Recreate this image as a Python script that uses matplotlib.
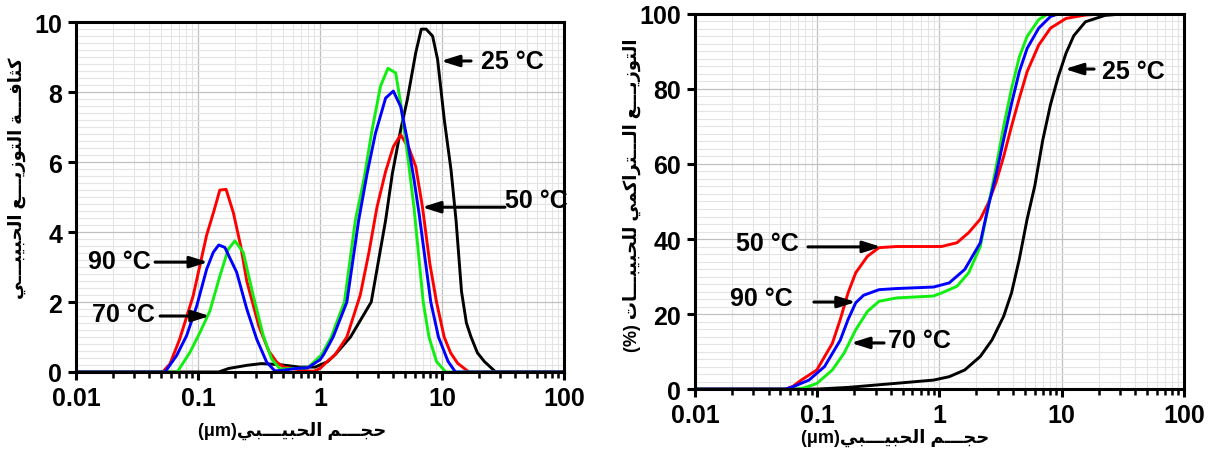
import matplotlib
matplotlib.use("Agg")
import matplotlib.pyplot as plt
from matplotlib.ticker import FixedLocator, NullFormatter, MultipleLocator

plt.rcParams['font.family'] = ['Liberation Sans', 'DejaVu Sans']
plt.rcParams['font.weight'] = 'bold'

# ---- frequency (density) curves, size in µm ----
red_d_size = [0.01, 0.0513, 0.0589, 0.0708, 0.0912, 0.1175, 0.135, 0.151, 0.170, 0.195,
              0.224, 0.251, 0.316, 0.380, 0.442, 0.501, 0.631, 0.794, 0.891, 1.0,
              1.148, 1.334, 1.66, 2.138, 2.512, 2.931, 3.443, 3.99, 4.581, 5.37,
              6.095, 6.918, 7.943, 9.016, 10.42, 11.75, 13.43, 16.6, 100]
red_d = [0, 0, 0.23, 0.94, 2.17, 3.9, 4.6, 5.2, 5.22, 4.55,
         3.6, 2.6, 1.3, 0.6, 0.28, 0.15, 0.08, 0.03, 0.02, 0.1,
         0.3, 0.5, 1.0, 2.2, 3.4, 4.71, 5.72, 6.44, 6.78, 6.39,
         5.87, 4.71, 3.1, 2.0, 1.0, 0.55, 0.25, 0, 0]

blue_d_size = [0.01, 0.0537, 0.0668, 0.0807, 0.0977, 0.1178, 0.1334, 0.1479, 0.166, 0.2075,
               0.2512, 0.3027, 0.3656, 0.4266, 0.501, 0.631, 0.794, 1.0, 1.072, 1.282,
               1.66, 2.075, 2.432, 2.851, 3.451, 3.99, 4.581, 5.2, 5.902, 6.486,
               8.091, 9.354, 11.22, 12.88, 100]
blue_d = [0, 0, 0.47, 1.04, 1.89, 2.94, 3.42, 3.63, 3.56, 2.85,
          1.8, 0.94, 0.28, 0.03, 0.05, 0.1, 0.12, 0.35, 0.5, 1.0,
          2.0, 4.34, 5.67, 6.83, 7.83, 8.03, 7.59, 6.63, 5.49, 4.53,
          2.0, 1.0, 0.3, 0, 0]

green_d_size = [0.01, 0.0676, 0.0859, 0.1038, 0.1253, 0.1514, 0.177, 0.2009, 0.235, 0.2838,
                0.3428, 0.4018, 0.4699, 0.631, 0.794, 1.033, 1.236, 1.585, 1.95, 2.286,
                2.673, 3.133, 3.606, 4.169, 4.581, 5.2, 5.888, 7.015, 7.816, 9.016,
                10.72, 100]
green_d = [0, 0, 0.56, 1.13, 1.75, 2.75, 3.51, 3.75, 3.42, 2.18,
           1.04, 0.37, 0.09, 0.1, 0.12, 0.5, 1.0, 2.0, 4.34, 5.49,
           6.92, 8.17, 8.68, 8.55, 7.69, 6.25, 4.71, 2.0, 1.0, 0.3,
           0, 0]

black_d_size = [0.01, 0.148, 0.178, 0.251, 0.331, 0.468, 0.676, 0.912, 1.148, 1.334,
                1.778, 2.63, 3.451, 3.917, 4.581, 5.2, 6.095, 6.761, 7.413, 8.375,
                9.204, 10.45, 11.86, 13.03, 14.45, 15.85, 17.3, 19.5, 22.23, 27.54,
                100]
black_d = [0, 0, 0.1, 0.19, 0.24, 0.21, 0.14, 0.14, 0.29, 0.5,
           1.0, 2.0, 4.34, 5.67, 6.92, 7.79, 9.13, 9.8, 9.8, 9.6,
           8.93, 7.2, 5.77, 4.34, 2.3, 1.4, 1.0, 0.55, 0.3, 0,
           0]

# ---- cumulative curves (%) ----
red_c_size = [0.01, 0.055, 0.0631, 0.0741, 0.0993, 0.133, 0.1542, 0.1786, 0.2065, 0.2576,
              0.3206, 0.4467, 1.038, 1.39, 1.734, 2.158, 2.5, 2.897, 3.35, 3.882,
              4.498, 5.212, 6.486, 8.091, 10.84, 15.63, 22.39, 100]
red_c = [0, 0, 0.7, 2.4, 5.1, 12.2, 18.5, 25.6, 31, 35.4,
         37.7, 38, 38, 39, 41.7, 45.3, 49.5, 55, 62, 70,
         77.5, 84.6, 91.7, 96.2, 98.8, 99.7, 100, 100]

blue_c_size = [0.01, 0.055, 0.0631, 0.0857, 0.1148, 0.1542, 0.1786, 0.2065, 0.2393, 0.3206,
               0.4467, 0.8954, 1.202, 1.611, 2.158, 2.5, 2.897, 3.35, 3.882, 4.498,
               5.212, 6.486, 8.091, 9.333, 100]
blue_c = [0, 0, 0.6, 2.4, 6, 13, 18.5, 23, 25, 26.5,
          26.8, 27.2, 28.3, 31.9, 39, 48.5, 57, 66.5, 76, 84.6,
          90.8, 96.2, 99.3, 100, 100]

green_c_size = [0.01, 0.0692, 0.0794, 0.0993, 0.133, 0.166, 0.2065, 0.2576, 0.3206, 0.4467,
                0.8913, 1.038, 1.39, 1.734, 2.158, 2.5, 2.897, 3.35, 3.882, 4.498,
                5.212, 6.486, 7.516, 10, 100]
green_c = [0, 0, 0.4, 1.5, 5.1, 9.6, 15.8, 20.7, 23.4, 24.3,
           24.8, 25.6, 27.4, 31, 38, 48.5, 59, 70, 80, 88.5,
           94, 98.5, 99.8, 100, 100]

black_c_size = [0.01, 0.1, 0.1786, 0.4305, 0.8954, 1.202, 1.611, 2.158, 2.692, 3.35,
                3.882, 4.498, 5.212, 6.026, 6.982, 8.091, 9.354, 10.84, 12.56, 15.63,
                22.54, 31.62, 100]
black_c = [0, 0, 0.45, 1.5, 2.4, 3.3, 5.1, 8.7, 13.1, 19.4,
           25.6, 34.6, 45.3, 54.2, 66.2, 75.8, 83.2, 89.5, 94.2, 97.9,
           99.6, 100, 100]

x_ticks = [0.01, 0.1, 1, 10, 100]
x_ticklabels = ['0.01', '0.1', '1', '10', '100']

# Arabic text is shaped by hand (presentation forms, visual order)
FORMS = {
    'ا': ('\uFE8D', '\uFE8E', None, None),
    'ب': ('\uFE8F', '\uFE90', '\uFE91', '\uFE92'),
    'ة': ('\uFE93', '\uFE94', None, None),
    'ت': ('\uFE95', '\uFE96', '\uFE97', '\uFE98'),
    'ث': ('\uFE99', '\uFE9A', '\uFE9B', '\uFE9C'),
    'ج': ('\uFE9D', '\uFE9E', '\uFE9F', '\uFEA0'),
    'ح': ('\uFEA1', '\uFEA2', '\uFEA3', '\uFEA4'),
    'ر': ('\uFEAD', '\uFEAE', None, None),
    'ز': ('\uFEAF', '\uFEB0', None, None),
    'ع': ('\uFEC9', '\uFECA', '\uFECB', '\uFECC'),
    'ف': ('\uFED1', '\uFED2', '\uFED3', '\uFED4'),
    'ك': ('\uFED9', '\uFEDA', '\uFEDB', '\uFEDC'),
    'ل': ('\uFEDD', '\uFEDE', '\uFEDF', '\uFEE0'),
    'م': ('\uFEE1', '\uFEE2', '\uFEE3', '\uFEE4'),
    'و': ('\uFEED', '\uFEEE', None, None),
    'ي': ('\uFEF1', '\uFEF2', '\uFEF3', '\uFEF4'),
}
TATWEEL = '\u0640'


def links_forward(c):
    return c == TATWEEL or (c in FORMS and FORMS[c][2] is not None)


def links_back(c):
    return c == TATWEEL or c in FORMS


def arabic(text):
    out = []
    for i, c in enumerate(text):
        if c not in FORMS:
            out.append(c)
            continue
        prev = text[i - 1] if i > 0 else ''
        nxt = text[i + 1] if i + 1 < len(text) else ''
        p = links_forward(prev)
        n = FORMS[c][2] is not None and links_back(nxt)
        iso, fin, ini, med = FORMS[c]
        if p and n:
            out.append(med)
        elif p:
            out.append(fin)
        elif n:
            out.append(ini)
        else:
            out.append(iso)
    return ''.join(reversed(out))


fig = plt.figure(figsize=(12.08, 4.52), dpi=100)
ax1 = fig.add_axes([0.0629, 0.1748, 0.404, 0.774])
ax2 = fig.add_axes([0.5753, 0.137, 0.4048, 0.830])

lw = 2.1
ax1.plot(black_d_size, black_d, color='black', lw=lw)
ax1.plot(red_d_size, red_d, color='#ff0000', lw=lw)
ax1.plot(green_d_size, green_d, color='#11ee11', lw=lw)
ax1.plot(blue_d_size, blue_d, color='#0000ff', lw=lw)

ax2.plot(black_c_size, black_c, color='black', lw=lw)
ax2.plot(red_c_size, red_c, color='#ff0000', lw=lw)
ax2.plot(green_c_size, green_c, color='#11ee11', lw=lw)
ax2.plot(blue_c_size, blue_c, color='#0000ff', lw=lw)


def style(ax, ymax, ystep, yminor):
    ax.set_xscale('log')
    ax.set_xlim(0.01, 100)
    ax.set_ylim(0, ymax)
    ax.xaxis.set_major_locator(FixedLocator(x_ticks))
    ax.set_xticklabels(x_ticklabels)
    minors = [m * 10.0 ** e for e in range(-2, 2) for m in range(2, 10)]
    ax.xaxis.set_minor_locator(FixedLocator(minors))
    ax.xaxis.set_minor_formatter(NullFormatter())
    ax.yaxis.set_major_locator(MultipleLocator(ystep))
    ax.yaxis.set_minor_locator(MultipleLocator(yminor))
    ax.grid(which='major', color='#c0c0c0', lw=0.9)
    ax.grid(which='minor', color='#e4e4e4', lw=0.8)
    ax.set_axisbelow(True)
    for s in ax.spines.values():
        s.set_linewidth(2.2)
    ax.tick_params(which='major', direction='out', length=6, width=2.2,
                   labelsize=18, pad=4)
    ax.tick_params(axis='x', which='minor', direction='out', length=4, width=1.8)
    ax.tick_params(axis='y', which='minor', length=0)
    for lab in ax.get_xticklabels() + ax.get_yticklabels():
        lab.set_fontweight('bold')


style(ax1, 10, 2, 0.2)
style(ax2, 100, 20, 2)

arrow = dict(arrowstyle='-|>,head_length=0.6,head_width=0.19', color='black',
             lw=2.2, mutation_scale=18, shrinkA=0, shrinkB=0)
txt = dict(fontsize=18, fontweight='bold', ha='left', va='center')

# density panel labels
ax1.annotate('', xy=(9.8, 8.89), xytext=(17.3, 8.89), arrowprops=arrow)
ax1.text(20.9, 8.89, '25 °C', **txt)
ax1.annotate('', xy=(6.85, 4.71), xytext=(32.8, 4.71), arrowprops=arrow)
ax1.text(32.8, 4.92, '50 °C', **txt)
ax1.annotate('', xy=(0.121, 3.14), xytext=(0.0445, 3.14), arrowprops=arrow)
ax1.text(0.0125, 3.17, '90 °C', **txt)
ax1.annotate('', xy=(0.125, 1.6), xytext=(0.0489, 1.6), arrowprops=arrow)
ax1.text(0.0135, 1.66, '70 °C', **txt)

# cumulative panel labels
ax2.annotate('', xy=(10.6, 85.3), xytext=(18.4, 85.3), arrowprops=arrow)
ax2.text(21.3, 84.8, '25 °C', **txt)
ax2.annotate('', xy=(0.333, 37.9), xytext=(0.084, 37.9), arrowprops=arrow)
ax2.text(0.0216, 38.9, '50 °C', **txt)
ax2.annotate('', xy=(0.207, 23.2), xytext=(0.094, 23.2), arrowprops=arrow)
ax2.text(0.0193, 24.3, '90 °C', **txt)
ax2.annotate('', xy=(0.189, 12.3), xytext=(0.352, 12.3), arrowprops=arrow)
ax2.text(0.379, 13.1, '70 °C', **txt)

lab = dict(fontsize=13, fontweight='bold', ha='center', va='center')
xlabel = '(μm)' + arabic('حجـــم الحبيـــبي')
fig.text(0.242, 0.046, xlabel, **lab)
fig.text(0.741, 0.031, xlabel, **lab)
fig.text(0.014, 0.606, arabic('كثافـــة التوزيـــع الحبيبـــي'), rotation=90, **lab)
fig.text(0.523, 0.569, '(%) ' + arabic('التوزيـــع الـــتراكمي للحبيبـــات'),
         rotation=90, **lab)

fig.savefig('out.png', dpi=100)
